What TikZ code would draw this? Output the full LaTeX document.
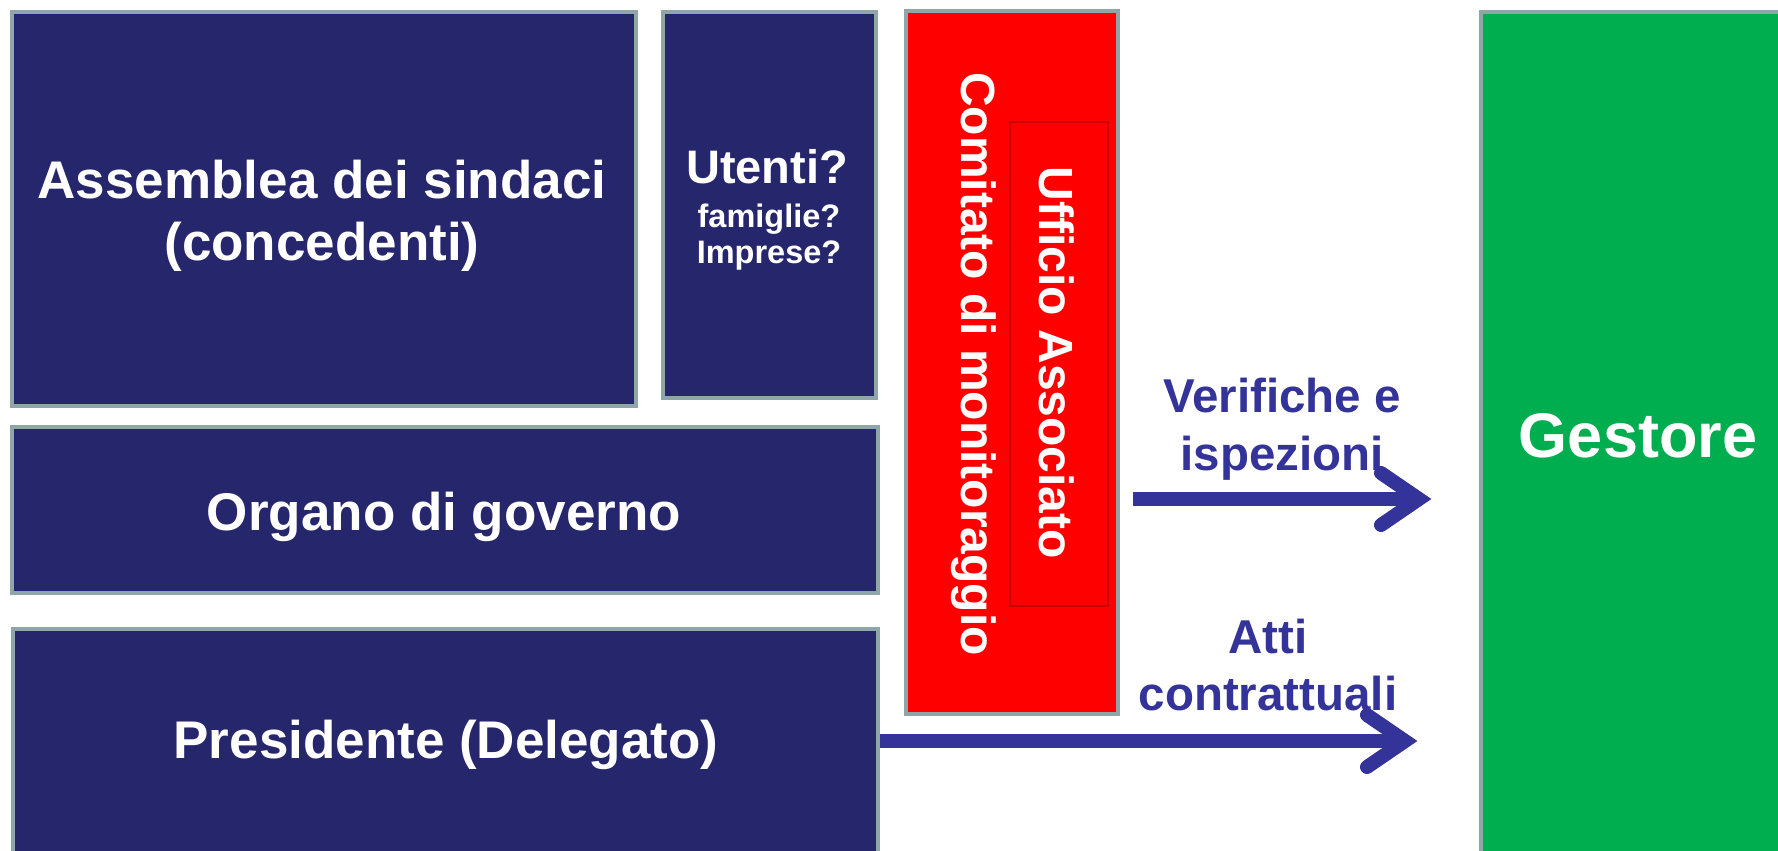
\documentclass[tikz,border=0pt]{standalone}
\usepackage{fontspec}
\setmainfont{Liberation Sans}
\usetikzlibrary{calc}
\definecolor{navy}{RGB}{38,38,108}
\definecolor{edgegray}{RGB}{143,166,168}
\definecolor{arrblue}{RGB}{51,51,153}
\definecolor{gestgreen}{RGB}{0,174,80}
\definecolor{innerred}{RGB}{200,0,0}
\begin{document}
\begin{tikzpicture}[x=1pt,y=-1pt,
  box/.style={draw=edgegray, line width=4pt, rectangle, inner sep=0pt, outer sep=0pt, anchor=north west},
  navybox/.style={box, fill=navy},
  wtext/.style={text=white, inner sep=0pt, anchor=base},
  btext/.style={text=arrblue, font=\bfseries\fontsize{47.5}{47.5}\selectfont, inner sep=0pt, anchor=base},
  shaft/.style={draw=arrblue, line width=14pt},
  chev/.style={draw=arrblue, line width=14pt, line cap=round, line join=miter}
]
\useasboundingbox (0,0) rectangle (1778,851);
\clip (0,0) rectangle (1778,851);

% boxes
\node[navybox, minimum width=624pt, minimum height=394pt] (as) at (12,12) {};
\node[navybox, minimum width=213pt, minimum height=386pt] (ut) at (663,12) {};
\node[navybox, minimum width=866pt, minimum height=166pt] (og) at (12,427) {};
\node[navybox, minimum width=865pt, minimum height=300pt] (pr) at (13,629) {};
\node[box, fill=red, minimum width=212pt, minimum height=703pt] (cm) at (906,11) {};
\node[draw=innerred, line width=1.5pt, rectangle, inner sep=0pt, anchor=north west,
      minimum width=98pt, minimum height=484pt] (ua) at (1009,121) {};
\node[box, fill=gestgreen, minimum width=400pt, minimum height=900pt] (gs) at (1481,12) {};

% texts
\node[wtext, font=\bfseries\fontsize{53}{53}\selectfont] (ast1) at (322,198) {Assemblea dei sindaci};
\node[wtext, font=\bfseries\fontsize{53}{53}\selectfont] (ast2) at (322,260) {(concedenti)};
\node[wtext, font=\bfseries\fontsize{47}{47}\selectfont] (utt1) at (767,183) {Utenti?};
\node[wtext, font=\bfseries\fontsize{32.5}{32.5}\selectfont] (utt2) at (769,227) {famiglie?};
\node[wtext, font=\bfseries\fontsize{32.5}{32.5}\selectfont] (utt3) at (769,263) {Imprese?};
\node[wtext, font=\bfseries\fontsize{53}{53}\selectfont] (ogt) at (444,530) {Organo di governo};
\node[wtext, font=\bfseries\fontsize{53}{53}\selectfont] (prt) at (446,758) {Presidente (Delegato)};
\node[wtext, rotate=-90, font=\bfseries\fontsize{48}{48}\selectfont] (cmt) at (961,364) {Comitato di monitoraggio};
\node[wtext, rotate=-90, font=\bfseries\fontsize{48}{48}\selectfont] (uat) at (1039,363) {Ufficio Associato};
\node[wtext, font=\bfseries\fontsize{63}{63}\selectfont] (gst) at (1638,457) {Gestore};
\node[btext] (v1) at (1282,412) {Verifiche e};
\node[btext] (v2) at (1282,470) {ispezioni};
\node[btext] (a1) at (1268,653) {Atti};
\node[btext] (a2) at (1268,710) {contrattuali};

% arrows
\coordinate (t1) at (1419,499);
\coordinate (t2) at (1405,741);
\draw[shaft] ($(cm.east |- t1)+(15,0)$) -- (t1);
\draw[chev] ($(t1)+(-38,-26)$) -- (t1) -- ($(t1)+(-38,26)$);
\draw[shaft] ($(pr.east |- t2)+(2,0)$) -- (t2);
\draw[chev] ($(t2)+(-38,-26)$) -- (t2) -- ($(t2)+(-38,26)$);
\end{tikzpicture}
\end{document}
